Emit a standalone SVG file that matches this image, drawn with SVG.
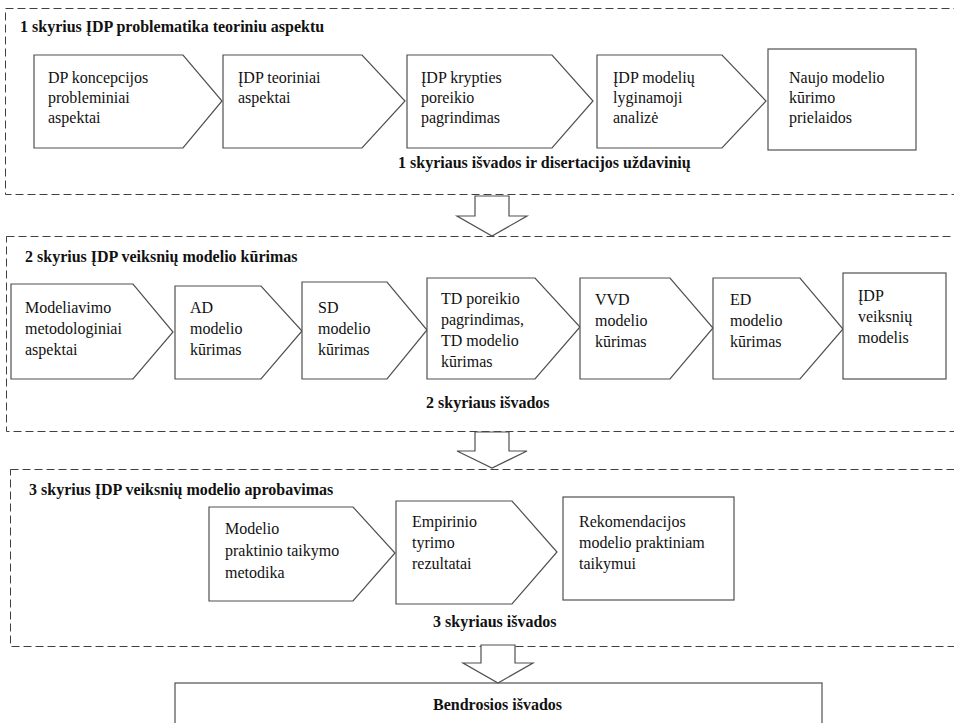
<svg xmlns="http://www.w3.org/2000/svg" width="954" height="723" viewBox="0 0 954 723">
<style>
  .sec { fill: none; stroke: #404040; stroke-width: 1; stroke-dasharray: 8 4; }
  .box { fill: #ffffff; stroke: #505050; stroke-width: 1.2; }
  .arr { fill: #ffffff; stroke: #505050; stroke-width: 1.2; stroke-linejoin: miter; }
  .t { font-family: "Liberation Serif", "Times New Roman", serif; font-size: 16px; fill: #111; }
  .b { font-family: "Liberation Serif", "Times New Roman", serif; font-size: 16px; font-weight: bold; fill: #111; }
</style>
<rect x="0" y="0" width="954" height="723" fill="#ffffff"/>

<!-- Section containers -->
<g id="section1">
  <rect class="sec" x="5.5" y="8.5" width="960" height="186"/>
  <text class="b" x="20" y="32">1 skyrius ĮDP problematika teoriniu aspektu</text>
  <text class="b" x="398" y="168">1 skyriaus išvados ir disertacijos uždavinių</text>
</g>
<g id="section2">
  <rect class="sec" x="6.5" y="236.5" width="960" height="195"/>
  <text class="b" x="25" y="262">2 skyrius ĮDP veiksnių modelio kūrimas</text>
  <text class="b" x="426" y="408">2 skyriaus išvados</text>
</g>
<g id="section3">
  <rect class="sec" x="10.5" y="469.5" width="960" height="177"/>
  <text class="b" x="29" y="495">3 skyrius ĮDP veiksnių modelio aprobavimas</text>
  <text class="b" x="433" y="627">3 skyriaus išvados</text>
</g>

<!-- Section 1 nodes -->
<g id="n1-1">
  <polygon class="box" points="34,55 183,55 222,101 183,148 34,148"/>
  <text class="t" x="48" y="83">DP koncepcijos</text>
  <text class="t" x="48" y="103">probleminiai</text>
  <text class="t" x="48" y="123">aspektai</text>
</g>
<g id="n1-2">
  <polygon class="box" points="223,55 362,55 405,101 362,148 223,148"/>
  <text class="t" x="238" y="83">ĮDP teoriniai</text>
  <text class="t" x="238" y="103">aspektai</text>
</g>
<g id="n1-3">
  <polygon class="box" points="407,55 552,55 593,101 552,148 407,148"/>
  <text class="t" x="421" y="83">ĮDP krypties</text>
  <text class="t" x="421" y="103">poreikio</text>
  <text class="t" x="421" y="123">pagrindimas</text>
</g>
<g id="n1-4">
  <polygon class="box" points="597,55 722,55 766,101 722,148 597,148"/>
  <text class="t" x="613" y="83">ĮDP modelių</text>
  <text class="t" x="613" y="103">lyginamoji</text>
  <text class="t" x="613" y="123">analizė</text>
</g>
<g id="n1-5">
  <rect class="box" x="768" y="49" width="148" height="101"/>
  <text class="t" x="789" y="83">Naujo modelio</text>
  <text class="t" x="789" y="103">kūrimo</text>
  <text class="t" x="789" y="123">prielaidos</text>
</g>

<!-- Section 2 nodes -->
<g id="n2-1">
  <polygon class="box" points="11,284 133,284 173,332 133,379 11,379"/>
  <text class="t" x="25" y="313">Modeliavimo</text>
  <text class="t" x="25" y="334">metodologiniai</text>
  <text class="t" x="25" y="355">aspektai</text>
</g>
<g id="n2-2">
  <polygon class="box" points="175,286 261,286 302,331 261,379 175,379"/>
  <text class="t" x="190" y="313">AD</text>
  <text class="t" x="190" y="334">modelio</text>
  <text class="t" x="190" y="355">kūrimas</text>
</g>
<g id="n2-3">
  <polygon class="box" points="302,282 387,282 427,330 387,379 302,379"/>
  <text class="t" x="318" y="313">SD</text>
  <text class="t" x="318" y="334">modelio</text>
  <text class="t" x="318" y="355">kūrimas</text>
</g>
<g id="n2-4">
  <polygon class="box" points="427,278 535,278 580,327 535,379 427,379"/>
  <text class="t" x="441" y="304">TD poreikio</text>
  <text class="t" x="441" y="325">pagrindimas,</text>
  <text class="t" x="441" y="346">TD modelio</text>
  <text class="t" x="441" y="367">kūrimas</text>
</g>
<g id="n2-5">
  <polygon class="box" points="580,278 670,278 713,328 670,379 580,379"/>
  <text class="t" x="595" y="305">VVD</text>
  <text class="t" x="595" y="326">modelio</text>
  <text class="t" x="595" y="347">kūrimas</text>
</g>
<g id="n2-6">
  <polygon class="box" points="713,278 800,278 843,329 800,379 713,379"/>
  <text class="t" x="730" y="305">ED</text>
  <text class="t" x="730" y="326">modelio</text>
  <text class="t" x="730" y="347">kūrimas</text>
</g>
<g id="n2-7">
  <rect class="box" x="843" y="273" width="103" height="106"/>
  <text class="t" x="858" y="301">ĮDP</text>
  <text class="t" x="858" y="322">veiksnių</text>
  <text class="t" x="858" y="343">modelis</text>
</g>

<!-- Section 3 nodes -->
<g id="n3-1">
  <polygon class="box" points="209,507 353,507 395,553 353,601 209,601"/>
  <text class="t" x="225" y="534">Modelio</text>
  <text class="t" x="225" y="556">praktinio taikymo</text>
  <text class="t" x="225" y="578">metodika</text>
</g>
<g id="n3-2">
  <polygon class="box" points="396,501 512,501 557,552 512,604 396,604"/>
  <text class="t" x="412" y="527">Empirinio</text>
  <text class="t" x="412" y="548">tyrimo</text>
  <text class="t" x="412" y="569">rezultatai</text>
</g>
<g id="n3-3">
  <rect class="box" x="563" y="497" width="171" height="103"/>
  <text class="t" x="579" y="527">Rekomendacijos</text>
  <text class="t" x="579" y="548">modelio praktiniam</text>
  <text class="t" x="579" y="569">taikymui</text>
</g>

<!-- Final node -->
<g id="n4">
  <rect class="box" x="175" y="683" width="647" height="60"/>
  <text class="b" x="433" y="710">Bendrosios išvados</text>
</g>

<!-- Connectors: block arrows between sections -->
<g id="connectors">
  <polygon class="arr" points="475,196 509,196 509,216 527,216 492,236 457,216 475,216"/>
  <polygon class="arr" points="475,432 509,432 509,451 527,451 492,468 457,451 475,451"/>
  <polygon class="arr" points="481,645 515,645 515,663 533,663 498,683 463,663 481,663"/>
</g>
</svg>
